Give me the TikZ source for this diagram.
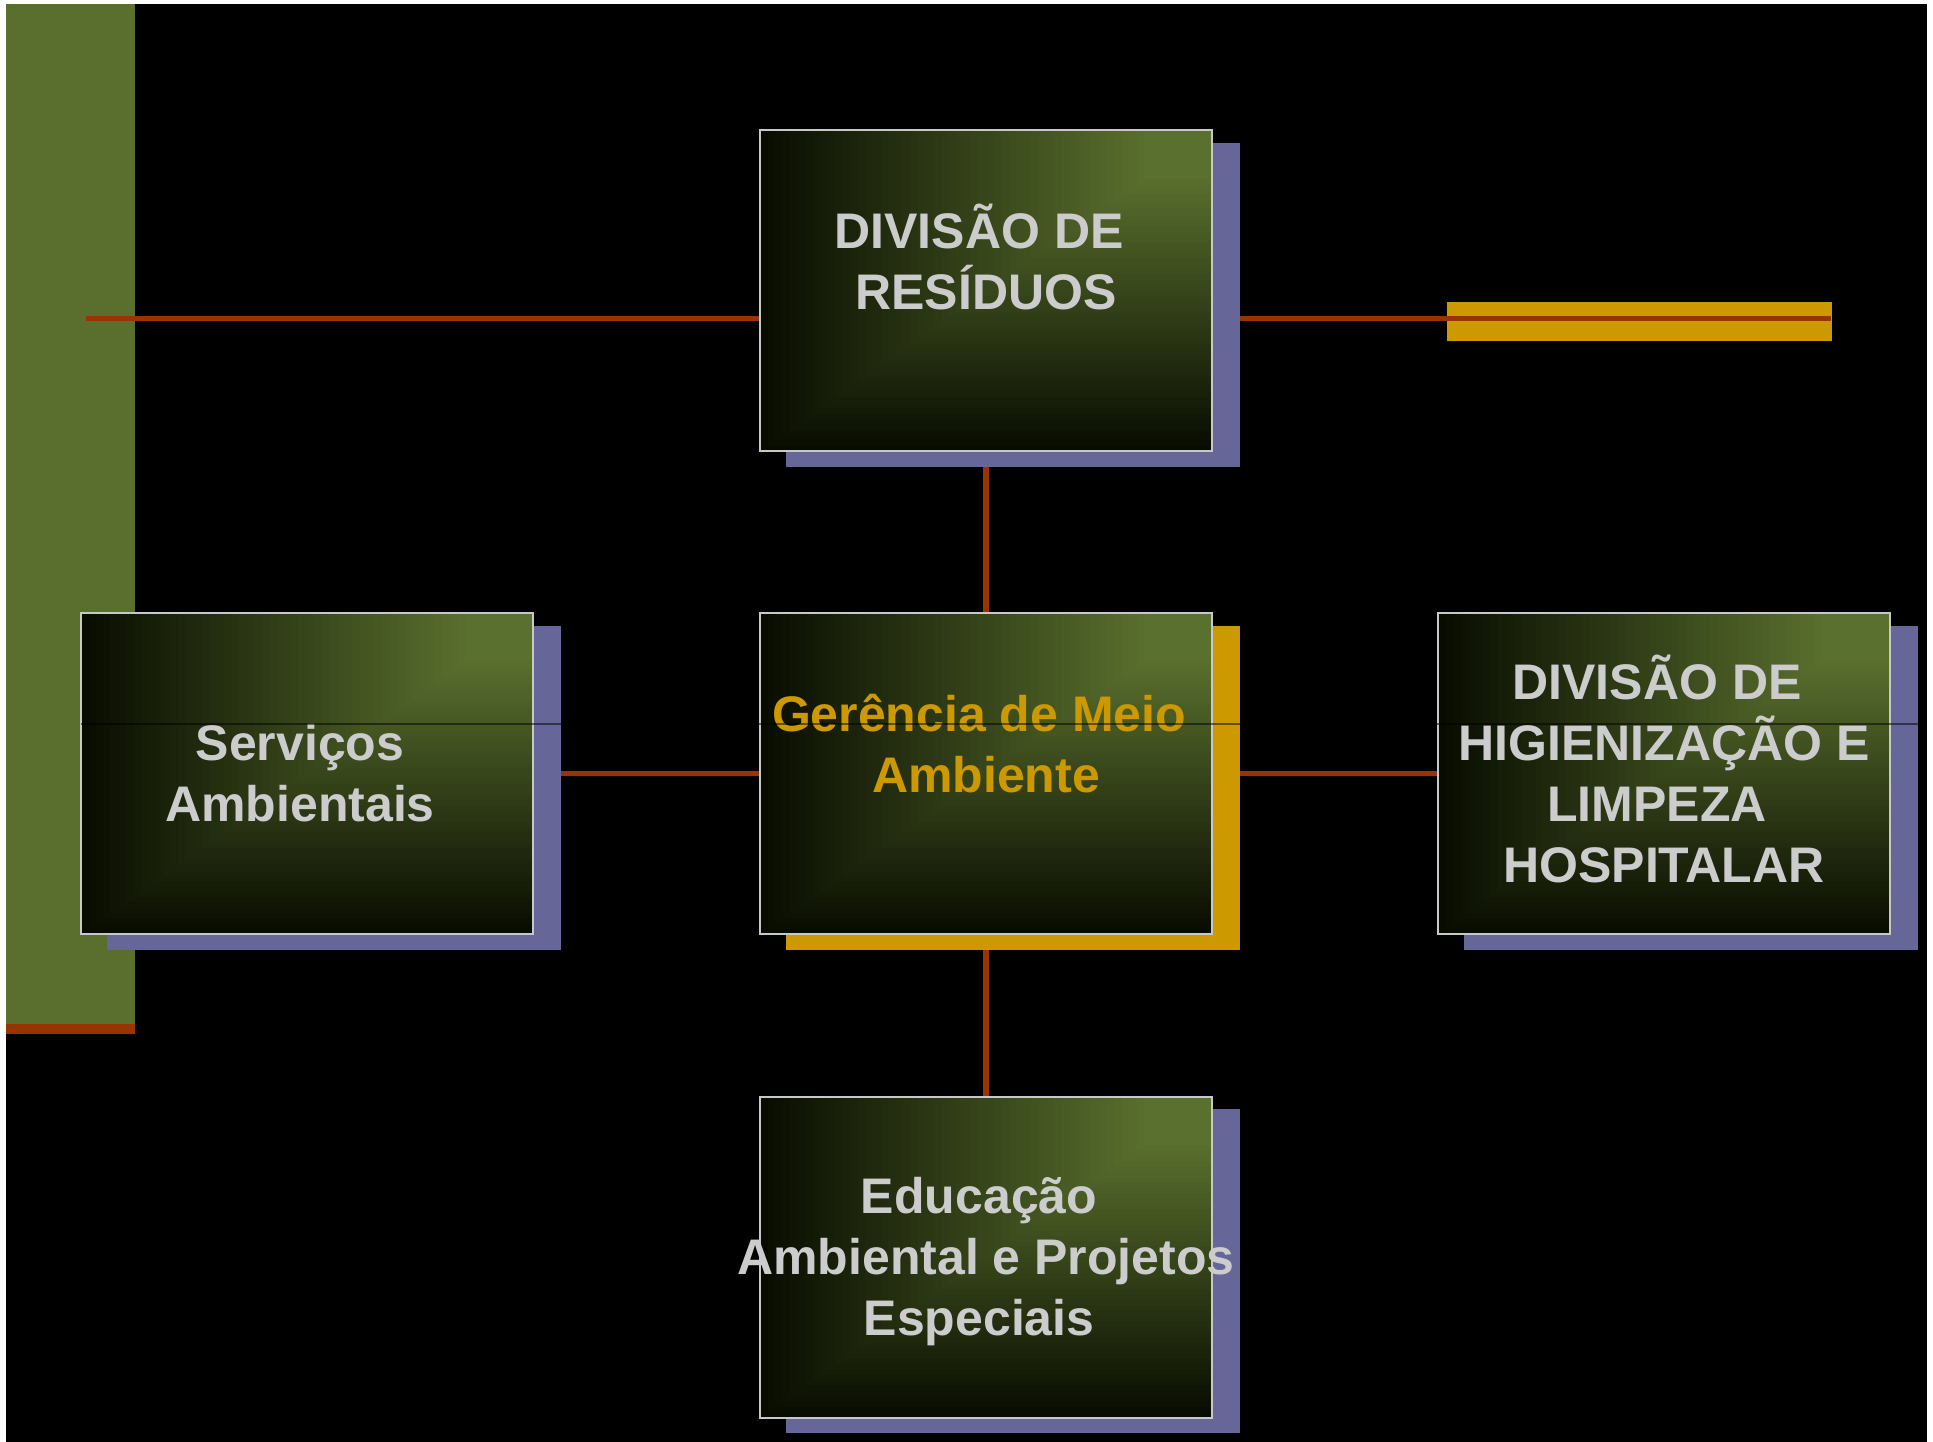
\documentclass[tikz,border=0pt]{standalone}
\usepackage{fontspec}
\setmainfont{Liberation Sans}
\usetikzlibrary{calc}
\definecolor{olivebar}{RGB}{90,110,45}
\definecolor{boxgreen}{RGB}{90,112,46}
\definecolor{boxdark}{RGB}{8,12,0}
\definecolor{rust}{RGB}{153,51,0}
\definecolor{goldc}{RGB}{204,153,0}
\definecolor{slate}{RGB}{102,102,153}
\definecolor{lgray}{RGB}{204,204,204}
\definecolor{bordergray}{RGB}{200,200,200}
\newcommand\lst{\vrule width 0pt height 48pt depth 12.2pt}
\newcommand\tsp{\kern 0.278em}
\pgfdeclarelayer{bg}
\pgfsetlayers{bg,main}
\tikzset{
  shadowbox/.style={minimum width=454pt, minimum height=324pt, inner sep=0pt, outer sep=0pt, draw=none},
  gradbox/.style={minimum width=452pt, minimum height=321pt, inner sep=0pt, outer sep=0pt,
    draw=bordergray, line width=2pt, fill=boxdark,
    path picture={
      \foreach \i in {0,...,59}{
        \pgfmathsetmacro\s{1-\i/60}
        \pgfmathsetmacro\p{min(100,100*(\i/60)/0.85)}
        \fill[boxgreen!\p!boxdark]
          (path picture bounding box.north east) rectangle
          ($(path picture bounding box.north east)!\s!(path picture bounding box.south west)$);
      }
    }},
  boxtext/.style={align=center, inner sep=0pt, outer sep=0pt, text=lgray,
    font=\fontsize{50}{61}\selectfont\bfseries},
  connector/.style={draw=rust, line width=5.5pt}
}
\begin{document}
\begin{tikzpicture}[x=1pt,y=-1pt]
\useasboundingbox (0,0) rectangle (1933,1442);
\begin{pgfonlayer}{bg}
  \fill[white] (0,0) rectangle (1933,1442);
  \fill[black] (6,4) rectangle (1927,1442);
  \fill[olivebar] (6,4) rectangle (135,1024);
  \fill[rust] (6,1024) rectangle (135,1034);
  \fill[goldc] (1447,302) rectangle (1832,341);
\end{pgfonlayer}

% shadows
\node[shadowbox, fill=slate] (topS)   at (1013,305) {};
\node[shadowbox, fill=goldc] (midS)   at (1013,788) {};
\node[shadowbox, fill=slate] (leftS)  at (334,788) {};
\node[shadowbox, fill=slate] (rightS) at (1691,788) {};
\node[shadowbox, fill=slate] (botS)   at (1013,1271) {};

% boxes
\node[gradbox] (top)   at (986,290.5) {};
\node[gradbox] (mid)   at (986,773.5) {};
\node[gradbox] (left)  at (307,773.5) {};
\node[gradbox] (right) at (1664,773.5) {};
\node[gradbox] (bot)   at (986,1257) {};

% texts
\node[boxtext, yshift=29.5pt] (topT) at (top.center) {\lst DIVISÃO DE\tsp\\\lst RESÍDUOS};
\node[boxtext, text=goldc, yshift=29pt] (midT) at (mid.center) {\lst Gerência de Meio\tsp\\\lst Ambiente};
\node[boxtext] (leftT) at (left.center) {\lst Serviços\tsp\\\lst Ambientais\tsp};
\node[boxtext] (rightT) at (right.center) {\lst DIVISÃO DE\tsp\\\lst HIGIENIZAÇÃO E\\\lst LIMPEZA\tsp\\\lst HOSPITALAR};
\node[boxtext] (botT) at (bot.center) {\lst Educação\tsp\\\lst Ambiental e Projetos\\\lst Especiais\tsp};

% connectors
\coordinate (lineL) at (86,318.5);
\coordinate (lineR) at (1831,318.5);
\begin{pgfonlayer}{bg}
  \draw[connector] (lineL) -- (lineL -| top.west);
  \draw[connector] (lineR -| top.east) -- (lineR);
  \draw[connector] (top) -- (mid);
  \draw[connector] (mid) -- (bot);
  \draw[connector] (left) -- (mid);
  \draw[connector] (mid) -- (right);
\end{pgfonlayer}

% thin dark line across
\coordinate (thinL) at (81,724);
\coordinate (thinR) at (1919,724);
\draw[black, opacity=0.5, line width=1.5pt] (thinL) -- (thinR);
\end{tikzpicture}
\end{document}
